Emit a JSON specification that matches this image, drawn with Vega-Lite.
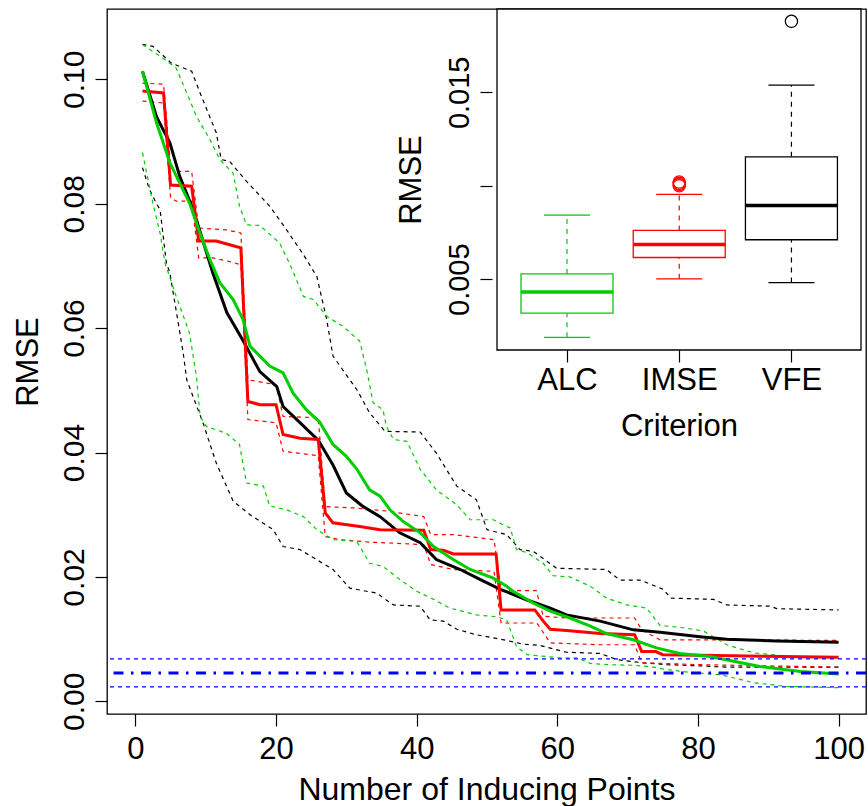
{
  "$schema": "https://vega.github.io/schema/vega-lite/v6.json",
  "width": 759,
  "height": 705,
  "autosize": {"type": "none"},
  "padding": {"left": 107, "top": 9, "right": 2, "bottom": 92},
  "background": "white",
  "config": {
    "view": {"stroke": "black", "strokeWidth": 1.3},
    "font": "Liberation Sans",
    "axis": {
      "labelFont": "Liberation Sans", "titleFont": "Liberation Sans",
      "labelFontSize": 30, "titleFontSize": 31, "titleFontWeight": "normal",
      "labelColor": "black", "titleColor": "black", "tickColor": "black",
      "tickSize": 12, "tickWidth": 1.2, "domain": false, "grid": false, "labelOverlap": false
    }
  },
  "datasets": {
    "lines": [
      {"g":"VFE","k":"m","x":1,"y":0.1013},{"g":"VFE","k":"m","x":3,"y":0.0940},{"g":"VFE","k":"m","x":4.9,"y":0.0898},{"g":"VFE","k":"m","x":6.3,"y":0.0844},{"g":"VFE","k":"m","x":8.2,"y":0.0791},{"g":"VFE","k":"m","x":9.2,"y":0.0755},{"g":"VFE","k":"m","x":11,"y":0.0689},{"g":"VFE","k":"m","x":13,"y":0.0625},{"g":"VFE","k":"m","x":15.3,"y":0.0580},{"g":"VFE","k":"m","x":17.7,"y":0.0530},{"g":"VFE","k":"m","x":20.1,"y":0.0506},{"g":"VFE","k":"m","x":21,"y":0.0474},{"g":"VFE","k":"m","x":23.4,"y":0.0448},{"g":"VFE","k":"m","x":26,"y":0.0420},{"g":"VFE","k":"m","x":28.1,"y":0.0380},{"g":"VFE","k":"m","x":30,"y":0.0335},{"g":"VFE","k":"m","x":32.4,"y":0.0313},{"g":"VFE","k":"m","x":34.8,"y":0.0297},{"g":"VFE","k":"m","x":37.6,"y":0.0271},{"g":"VFE","k":"m","x":40.5,"y":0.0255},{"g":"VFE","k":"m","x":42.8,"y":0.0228},{"g":"VFE","k":"m","x":46.2,"y":0.0212},{"g":"VFE","k":"m","x":49,"y":0.0196},{"g":"VFE","k":"m","x":51.9,"y":0.0180},{"g":"VFE","k":"m","x":55.7,"y":0.0163},{"g":"VFE","k":"m","x":59,"y":0.0150},{"g":"VFE","k":"m","x":61.3,"y":0.0139},{"g":"VFE","k":"m","x":66.1,"y":0.0129},{"g":"VFE","k":"m","x":70.8,"y":0.0115},{"g":"VFE","k":"m","x":74.6,"y":0.0111},{"g":"VFE","k":"m","x":80.3,"y":0.0104},{"g":"VFE","k":"m","x":84.1,"y":0.0100},{"g":"VFE","k":"m","x":91.2,"y":0.0097},{"g":"VFE","k":"m","x":100,"y":0.0095},

      {"g":"VFE","k":"h","x":1,"y":0.1056},{"g":"VFE","k":"h","x":2.5,"y":0.1053},{"g":"VFE","k":"h","x":5.1,"y":0.1026},{"g":"VFE","k":"h","x":8,"y":0.1013},{"g":"VFE","k":"h","x":9.2,"y":0.0978},{"g":"VFE","k":"h","x":11.5,"y":0.0914},{"g":"VFE","k":"h","x":12.2,"y":0.0871},{"g":"VFE","k":"h","x":13.4,"y":0.0868},{"g":"VFE","k":"h","x":15.8,"y":0.0836},{"g":"VFE","k":"h","x":19.1,"y":0.0796},{"g":"VFE","k":"h","x":21.5,"y":0.0758},{"g":"VFE","k":"h","x":23.9,"y":0.0718},{"g":"VFE","k":"h","x":25.8,"y":0.0683},{"g":"VFE","k":"h","x":27.2,"y":0.0614},{"g":"VFE","k":"h","x":28.1,"y":0.0555},{"g":"VFE","k":"h","x":31.5,"y":0.0501},{"g":"VFE","k":"h","x":33.3,"y":0.0464},{"g":"VFE","k":"h","x":35.5,"y":0.0434},{"g":"VFE","k":"h","x":40.5,"y":0.0433},{"g":"VFE","k":"h","x":42.8,"y":0.0399},{"g":"VFE","k":"h","x":45.7,"y":0.0346},{"g":"VFE","k":"h","x":48.5,"y":0.0324},{"g":"VFE","k":"h","x":50,"y":0.0276},{"g":"VFE","k":"h","x":52.8,"y":0.0268},{"g":"VFE","k":"h","x":54.7,"y":0.0244},{"g":"VFE","k":"h","x":56.6,"y":0.0241},{"g":"VFE","k":"h","x":59.9,"y":0.0214},{"g":"VFE","k":"h","x":67,"y":0.0212},{"g":"VFE","k":"h","x":68.9,"y":0.0195},{"g":"VFE","k":"h","x":71.8,"y":0.0195},{"g":"VFE","k":"h","x":75.1,"y":0.0180},{"g":"VFE","k":"h","x":76.1,"y":0.0166},{"g":"VFE","k":"h","x":82.2,"y":0.0164},{"g":"VFE","k":"h","x":84.1,"y":0.0155},{"g":"VFE","k":"h","x":90.3,"y":0.0153},{"g":"VFE","k":"h","x":91.2,"y":0.0149},{"g":"VFE","k":"h","x":100,"y":0.0147},

      {"g":"VFE","k":"l","x":1,"y":0.0858},{"g":"VFE","k":"l","x":2,"y":0.0823},{"g":"VFE","k":"l","x":3,"y":0.0800},{"g":"VFE","k":"l","x":3.5,"y":0.0791},{"g":"VFE","k":"l","x":4.4,"y":0.0705},{"g":"VFE","k":"l","x":4.9,"y":0.0689},{"g":"VFE","k":"l","x":6.8,"y":0.0560},{"g":"VFE","k":"l","x":7.3,"y":0.0517},{"g":"VFE","k":"l","x":9.6,"y":0.0448},{"g":"VFE","k":"l","x":11.5,"y":0.0383},{"g":"VFE","k":"l","x":13.9,"y":0.0322},{"g":"VFE","k":"l","x":16.3,"y":0.0300},{"g":"VFE","k":"l","x":19.6,"y":0.0276},{"g":"VFE","k":"l","x":21,"y":0.0249},{"g":"VFE","k":"l","x":23.4,"y":0.0244},{"g":"VFE","k":"l","x":28.1,"y":0.0212},{"g":"VFE","k":"l","x":30.5,"y":0.0182},{"g":"VFE","k":"l","x":34.3,"y":0.0174},{"g":"VFE","k":"l","x":36.7,"y":0.0155},{"g":"VFE","k":"l","x":40.5,"y":0.0153},{"g":"VFE","k":"l","x":41.9,"y":0.0131},{"g":"VFE","k":"l","x":43.8,"y":0.0129},{"g":"VFE","k":"l","x":45.7,"y":0.0116},{"g":"VFE","k":"l","x":48.5,"y":0.0107},{"g":"VFE","k":"l","x":51.9,"y":0.0100},{"g":"VFE","k":"l","x":55.2,"y":0.0092},{"g":"VFE","k":"l","x":57.5,"y":0.0090},{"g":"VFE","k":"l","x":61.3,"y":0.0079},{"g":"VFE","k":"l","x":66.1,"y":0.0077},{"g":"VFE","k":"l","x":68.5,"y":0.0067},{"g":"VFE","k":"l","x":72.2,"y":0.0062},{"g":"VFE","k":"l","x":75.6,"y":0.0059},{"g":"VFE","k":"l","x":80.3,"y":0.0057},{"g":"VFE","k":"l","x":84.1,"y":0.0055},{"g":"VFE","k":"l","x":100,"y":0.0055},

      {"g":"IMSE","k":"m","x":1,"y":0.0981},{"g":"IMSE","k":"m","x":4,"y":0.0978},{"g":"IMSE","k":"m","x":5,"y":0.0830},{"g":"IMSE","k":"m","x":8,"y":0.0828},{"g":"IMSE","k":"m","x":9,"y":0.0740},{"g":"IMSE","k":"m","x":11.5,"y":0.0740},{"g":"IMSE","k":"m","x":13.4,"y":0.0734},{"g":"IMSE","k":"m","x":15,"y":0.0729},{"g":"IMSE","k":"m","x":16,"y":0.0482},{"g":"IMSE","k":"m","x":17.7,"y":0.0477},{"g":"IMSE","k":"m","x":20,"y":0.0477},{"g":"IMSE","k":"m","x":21,"y":0.0429},{"g":"IMSE","k":"m","x":23.4,"y":0.0423},{"g":"IMSE","k":"m","x":26,"y":0.0421},{"g":"IMSE","k":"m","x":27,"y":0.0303},{"g":"IMSE","k":"m","x":28.1,"y":0.0287},{"g":"IMSE","k":"m","x":31.9,"y":0.0281},{"g":"IMSE","k":"m","x":34.8,"y":0.0276},{"g":"IMSE","k":"m","x":41,"y":0.0275},{"g":"IMSE","k":"m","x":42,"y":0.0244},{"g":"IMSE","k":"m","x":43.8,"y":0.0243},{"g":"IMSE","k":"m","x":45.2,"y":0.0237},{"g":"IMSE","k":"m","x":51.3,"y":0.0237},{"g":"IMSE","k":"m","x":52,"y":0.0147},{"g":"IMSE","k":"m","x":56.8,"y":0.0147},{"g":"IMSE","k":"m","x":58,"y":0.0129},{"g":"IMSE","k":"m","x":59,"y":0.0116},{"g":"IMSE","k":"m","x":61.3,"y":0.0114},{"g":"IMSE","k":"m","x":66.1,"y":0.0109},{"g":"IMSE","k":"m","x":71,"y":0.0107},{"g":"IMSE","k":"m","x":72,"y":0.0080},{"g":"IMSE","k":"m","x":74,"y":0.0080},{"g":"IMSE","k":"m","x":75,"y":0.0075},{"g":"IMSE","k":"m","x":80.3,"y":0.0074},{"g":"IMSE","k":"m","x":100,"y":0.0071},

      {"g":"IMSE","k":"h","x":1,"y":0.0994},{"g":"IMSE","k":"h","x":4,"y":0.0992},{"g":"IMSE","k":"h","x":5,"y":0.0860},{"g":"IMSE","k":"h","x":5.8,"y":0.0852},{"g":"IMSE","k":"h","x":8,"y":0.0852},{"g":"IMSE","k":"h","x":9,"y":0.0761},{"g":"IMSE","k":"h","x":12.9,"y":0.0758},{"g":"IMSE","k":"h","x":15,"y":0.0753},{"g":"IMSE","k":"h","x":16,"y":0.0517},{"g":"IMSE","k":"h","x":20,"y":0.0509},{"g":"IMSE","k":"h","x":21,"y":0.0458},{"g":"IMSE","k":"h","x":26,"y":0.0456},{"g":"IMSE","k":"h","x":27,"y":0.0313},{"g":"IMSE","k":"h","x":31,"y":0.0311},{"g":"IMSE","k":"h","x":35.7,"y":0.0306},{"g":"IMSE","k":"h","x":41,"y":0.0297},{"g":"IMSE","k":"h","x":42,"y":0.0268},{"g":"IMSE","k":"h","x":45.2,"y":0.0268},{"g":"IMSE","k":"h","x":51,"y":0.0260},{"g":"IMSE","k":"h","x":52,"y":0.0178},{"g":"IMSE","k":"h","x":57,"y":0.0178},{"g":"IMSE","k":"h","x":58,"y":0.0137},{"g":"IMSE","k":"h","x":61.3,"y":0.0134},{"g":"IMSE","k":"h","x":71,"y":0.0134},{"g":"IMSE","k":"h","x":72,"y":0.0115},{"g":"IMSE","k":"h","x":74.6,"y":0.0099},{"g":"IMSE","k":"h","x":80.3,"y":0.0099},{"g":"IMSE","k":"h","x":100,"y":0.0098},

      {"g":"IMSE","k":"l","x":1,"y":0.0965},{"g":"IMSE","k":"l","x":4,"y":0.0962},{"g":"IMSE","k":"l","x":5,"y":0.0810},{"g":"IMSE","k":"l","x":5.8,"y":0.0804},{"g":"IMSE","k":"l","x":8,"y":0.0804},{"g":"IMSE","k":"l","x":9,"y":0.0713},{"g":"IMSE","k":"l","x":11,"y":0.0713},{"g":"IMSE","k":"l","x":13.4,"y":0.0707},{"g":"IMSE","k":"l","x":15,"y":0.0702},{"g":"IMSE","k":"l","x":16,"y":0.0453},{"g":"IMSE","k":"l","x":20,"y":0.0448},{"g":"IMSE","k":"l","x":21,"y":0.0402},{"g":"IMSE","k":"l","x":26,"y":0.0395},{"g":"IMSE","k":"l","x":27,"y":0.0265},{"g":"IMSE","k":"l","x":29.1,"y":0.0260},{"g":"IMSE","k":"l","x":33.3,"y":0.0256},{"g":"IMSE","k":"l","x":41,"y":0.0252},{"g":"IMSE","k":"l","x":42,"y":0.0220},{"g":"IMSE","k":"l","x":45.2,"y":0.0212},{"g":"IMSE","k":"l","x":51,"y":0.0209},{"g":"IMSE","k":"l","x":52,"y":0.0126},{"g":"IMSE","k":"l","x":57.1,"y":0.0126},{"g":"IMSE","k":"l","x":59,"y":0.0094},{"g":"IMSE","k":"l","x":66.1,"y":0.0091},{"g":"IMSE","k":"l","x":71,"y":0.0091},{"g":"IMSE","k":"l","x":72,"y":0.0062},{"g":"IMSE","k":"l","x":80.3,"y":0.0059},{"g":"IMSE","k":"l","x":100,"y":0.0055},

      {"g":"ALC","k":"m","x":1,"y":0.1013},{"g":"ALC","k":"m","x":3,"y":0.0930},{"g":"ALC","k":"m","x":4.9,"y":0.0866},{"g":"ALC","k":"m","x":6.3,"y":0.0833},{"g":"ALC","k":"m","x":7.7,"y":0.0801},{"g":"ALC","k":"m","x":9.2,"y":0.0752},{"g":"ALC","k":"m","x":10.6,"y":0.0710},{"g":"ALC","k":"m","x":12,"y":0.0673},{"g":"ALC","k":"m","x":13.9,"y":0.0646},{"g":"ALC","k":"m","x":15.3,"y":0.0614},{"g":"ALC","k":"m","x":16.3,"y":0.0571},{"g":"ALC","k":"m","x":17.7,"y":0.0555},{"g":"ALC","k":"m","x":19.1,"y":0.0539},{"g":"ALC","k":"m","x":21,"y":0.0528},{"g":"ALC","k":"m","x":22.4,"y":0.0496},{"g":"ALC","k":"m","x":24.3,"y":0.0469},{"g":"ALC","k":"m","x":26.2,"y":0.0449},{"g":"ALC","k":"m","x":28.1,"y":0.0413},{"g":"ALC","k":"m","x":30,"y":0.0394},{"g":"ALC","k":"m","x":31.5,"y":0.0373},{"g":"ALC","k":"m","x":33.3,"y":0.0340},{"g":"ALC","k":"m","x":34.8,"y":0.0330},{"g":"ALC","k":"m","x":36.2,"y":0.0308},{"g":"ALC","k":"m","x":38.1,"y":0.0289},{"g":"ALC","k":"m","x":40.5,"y":0.0271},{"g":"ALC","k":"m","x":42.4,"y":0.0249},{"g":"ALC","k":"m","x":45.2,"y":0.0228},{"g":"ALC","k":"m","x":47.6,"y":0.0212},{"g":"ALC","k":"m","x":50.9,"y":0.0198},{"g":"ALC","k":"m","x":52.8,"y":0.0185},{"g":"ALC","k":"m","x":53.7,"y":0.0177},{"g":"ALC","k":"m","x":56.6,"y":0.0158},{"g":"ALC","k":"m","x":59,"y":0.0145},{"g":"ALC","k":"m","x":61.8,"y":0.0134},{"g":"ALC","k":"m","x":64.7,"y":0.0121},{"g":"ALC","k":"m","x":67,"y":0.0109},{"g":"ALC","k":"m","x":70.8,"y":0.0099},{"g":"ALC","k":"m","x":74.1,"y":0.0086},{"g":"ALC","k":"m","x":77.4,"y":0.0077},{"g":"ALC","k":"m","x":81.7,"y":0.0072},{"g":"ALC","k":"m","x":88.8,"y":0.0056},{"g":"ALC","k":"m","x":94.6,"y":0.0048},{"g":"ALC","k":"m","x":100,"y":0.0044},

      {"g":"ALC","k":"h","x":1,"y":0.1056},{"g":"ALC","k":"h","x":3.9,"y":0.1034},{"g":"ALC","k":"h","x":5.8,"y":0.1018},{"g":"ALC","k":"h","x":7.3,"y":0.0978},{"g":"ALC","k":"h","x":8.7,"y":0.0940},{"g":"ALC","k":"h","x":10.6,"y":0.0903},{"g":"ALC","k":"h","x":12,"y":0.0871},{"g":"ALC","k":"h","x":13.9,"y":0.0849},{"g":"ALC","k":"h","x":14.8,"y":0.0796},{"g":"ALC","k":"h","x":15.8,"y":0.0766},{"g":"ALC","k":"h","x":17.7,"y":0.0765},{"g":"ALC","k":"h","x":20.5,"y":0.0737},{"g":"ALC","k":"h","x":22,"y":0.0702},{"g":"ALC","k":"h","x":23.9,"y":0.0651},{"g":"ALC","k":"h","x":25.3,"y":0.0646},{"g":"ALC","k":"h","x":27.2,"y":0.0619},{"g":"ALC","k":"h","x":29.5,"y":0.0603},{"g":"ALC","k":"h","x":31.9,"y":0.0579},{"g":"ALC","k":"h","x":32.9,"y":0.0533},{"g":"ALC","k":"h","x":33.8,"y":0.0480},{"g":"ALC","k":"h","x":35.2,"y":0.0469},{"g":"ALC","k":"h","x":35.7,"y":0.0442},{"g":"ALC","k":"h","x":36.7,"y":0.0421},{"g":"ALC","k":"h","x":38.6,"y":0.0418},{"g":"ALC","k":"h","x":40.5,"y":0.0373},{"g":"ALC","k":"h","x":42.8,"y":0.0340},{"g":"ALC","k":"h","x":45.7,"y":0.0316},{"g":"ALC","k":"h","x":47.6,"y":0.0292},{"g":"ALC","k":"h","x":50.9,"y":0.0292},{"g":"ALC","k":"h","x":52.8,"y":0.0281},{"g":"ALC","k":"h","x":53.3,"y":0.0279},{"g":"ALC","k":"h","x":54.2,"y":0.0244},{"g":"ALC","k":"h","x":55.7,"y":0.0239},{"g":"ALC","k":"h","x":58,"y":0.0222},{"g":"ALC","k":"h","x":59.4,"y":0.0202},{"g":"ALC","k":"h","x":61.8,"y":0.0200},{"g":"ALC","k":"h","x":64.7,"y":0.0185},{"g":"ALC","k":"h","x":67,"y":0.0166},{"g":"ALC","k":"h","x":69.9,"y":0.0155},{"g":"ALC","k":"h","x":72.7,"y":0.0150},{"g":"ALC","k":"h","x":74.6,"y":0.0122},{"g":"ALC","k":"h","x":77.5,"y":0.0119},{"g":"ALC","k":"h","x":80.8,"y":0.0113},{"g":"ALC","k":"h","x":84.1,"y":0.0091},{"g":"ALC","k":"h","x":87.9,"y":0.0078},{"g":"ALC","k":"h","x":92.6,"y":0.0073},{"g":"ALC","k":"h","x":100,"y":0.0070},

      {"g":"ALC","k":"l","x":1,"y":0.0882},{"g":"ALC","k":"l","x":1.3,"y":0.0866},{"g":"ALC","k":"l","x":2.5,"y":0.0800},{"g":"ALC","k":"l","x":3.5,"y":0.0753},{"g":"ALC","k":"l","x":4.2,"y":0.0705},{"g":"ALC","k":"l","x":5.8,"y":0.0651},{"g":"ALC","k":"l","x":7.7,"y":0.0592},{"g":"ALC","k":"l","x":8.7,"y":0.0520},{"g":"ALC","k":"l","x":9.2,"y":0.0458},{"g":"ALC","k":"l","x":10.1,"y":0.0442},{"g":"ALC","k":"l","x":12.9,"y":0.0431},{"g":"ALC","k":"l","x":14.8,"y":0.0413},{"g":"ALC","k":"l","x":15.8,"y":0.0351},{"g":"ALC","k":"l","x":18.2,"y":0.0346},{"g":"ALC","k":"l","x":19.1,"y":0.0314},{"g":"ALC","k":"l","x":21.5,"y":0.0308},{"g":"ALC","k":"l","x":23.9,"y":0.0297},{"g":"ALC","k":"l","x":25.8,"y":0.0276},{"g":"ALC","k":"l","x":28.1,"y":0.0260},{"g":"ALC","k":"l","x":31.5,"y":0.0257},{"g":"ALC","k":"l","x":33.3,"y":0.0222},{"g":"ALC","k":"l","x":35.2,"y":0.0217},{"g":"ALC","k":"l","x":37.6,"y":0.0196},{"g":"ALC","k":"l","x":40,"y":0.0177},{"g":"ALC","k":"l","x":42.4,"y":0.0164},{"g":"ALC","k":"l","x":44.7,"y":0.0150},{"g":"ALC","k":"l","x":48.5,"y":0.0139},{"g":"ALC","k":"l","x":51.4,"y":0.0136},{"g":"ALC","k":"l","x":52.8,"y":0.0131},{"g":"ALC","k":"l","x":54.2,"y":0.0088},{"g":"ALC","k":"l","x":55.7,"y":0.0075},{"g":"ALC","k":"l","x":60.4,"y":0.0070},{"g":"ALC","k":"l","x":62.8,"y":0.0070},{"g":"ALC","k":"l","x":64.7,"y":0.0061},{"g":"ALC","k":"l","x":67.5,"y":0.0059},{"g":"ALC","k":"l","x":70.8,"y":0.0058},{"g":"ALC","k":"l","x":73.2,"y":0.0056},{"g":"ALC","k":"l","x":75.6,"y":0.0051},{"g":"ALC","k":"l","x":79.4,"y":0.0046},{"g":"ALC","k":"l","x":83.2,"y":0.0043},{"g":"ALC","k":"l","x":87.9,"y":0.0030},{"g":"ALC","k":"l","x":92.6,"y":0.0024},{"g":"ALC","k":"l","x":100,"y":0.0022}
    ],
    "hl": [
      {"t": "band", "y": 0.00682},
      {"t": "band", "y": 0.00232},
      {"t": "mid", "y": 0.00457}
    ],
    "box": [
      {"c": "ALC", "pos": 1, "lo": 0.00189, "q1": 0.00318, "med": 0.00432, "q3": 0.00528, "hi": 0.00843},
      {"c": "IMSE", "pos": 2, "lo": 0.00502, "q1": 0.00616, "med": 0.00686, "q3": 0.00761, "hi": 0.00954},
      {"c": "VFE", "pos": 3, "lo": 0.00482, "q1": 0.00711, "med": 0.00895, "q3": 0.01155, "hi": 0.01539}
    ],
    "out": [
      {"c": "IMSE", "pos": 2, "v": 0.0100},
      {"c": "IMSE", "pos": 2, "v": 0.01007},
      {"c": "IMSE", "pos": 2, "v": 0.01013},
      {"c": "IMSE", "pos": 2, "v": 0.0102},
      {"c": "VFE", "pos": 3, "v": 0.0188}
    ]
  },
  "layer": [
    {
      "layer": [
        {
          "data": {"name": "lines"},
          "transform": [{"filter": "datum.k != 'm'"}],
          "mark": {"type": "line", "strokeWidth": 1.2, "strokeDash": [4, 4], "interpolate": "linear"},
          "encoding": {
            "x": {"field": "x", "type": "quantitative",
                  "scale": {"domain": [-4.04, 103.9], "nice": false, "zero": false},
                  "axis": {"values": [0, 20, 40, 60, 80, 100], "title": "Number of Inducing Points",
                           "labelFontSize": 31, "titleFontSize": 32, "labelPadding": 8, "titlePadding": 10}},
            "y": {"field": "y", "type": "quantitative",
                  "scale": {"domain": [-0.00203, 0.1113], "nice": false, "zero": false},
                  "axis": {"values": [0, 0.02, 0.04, 0.06, 0.08, 0.1], "format": ".2f", "labelAngle": -90,
                           "title": "RMSE", "labelFontSize": 30, "titleFontSize": 31, "labelPadding": 6, "titlePadding": 15}},
            "color": {"field": "g", "type": "nominal",
                      "scale": {"domain": ["VFE", "IMSE", "ALC"], "range": ["#000000", "#FF0000", "#00CD00"]}, "legend": null},
            "detail": {"field": "k", "type": "nominal"}
          }
        },
        {
          "data": {"name": "lines"},
          "transform": [{"filter": "datum.k == 'm'"}],
          "mark": {"type": "line", "strokeWidth": 3, "interpolate": "linear"},
          "encoding": {
            "x": {"field": "x", "type": "quantitative"},
            "y": {"field": "y", "type": "quantitative"},
            "color": {"field": "g", "type": "nominal", "legend": null}
          }
        },
        {
          "data": {"name": "hl"},
          "transform": [{"filter": "datum.t == 'band'"}],
          "mark": {"type": "rule", "color": "#0000FF", "strokeWidth": 1.2, "strokeDash": [4, 4]},
          "encoding": {"y": {"field": "y", "type": "quantitative"}}
        },
        {
          "data": {"name": "hl"},
          "transform": [{"filter": "datum.t == 'mid'"}],
          "mark": {"type": "rule", "color": "#0000FF", "strokeWidth": 3, "strokeDash": [10, 7.5, 2.5, 7.5]},
          "encoding": {"y": {"field": "y", "type": "quantitative"}}
        }
      ]
    },
    {
      "layer": [
        {
          "data": {"values": [{}]},
          "mark": {"type": "rect", "fill": "white", "stroke": "black", "strokeWidth": 1.3},
          "encoding": {
            "x": {"datum": 0.376, "type": "quantitative",
                  "scale": {"domain": [0.376, 3.62], "range": [385, 759], "nice": false, "zero": false},
                  "axis": {"orient": "bottom", "offset": -364, "values": [1, 2, 3], "zindex": 1,
                           "labelExpr": "datum.value == 1 ? 'ALC' : datum.value == 2 ? 'IMSE' : 'VFE'",
                           "title": "Criterion", "labelFontSize": 31, "titleFontSize": 31, "labelPadding": 3, "titlePadding": 16}},
            "x2": {"datum": 3.62},
            "y": {"datum": 0.00121, "type": "quantitative",
                  "scale": {"domain": [0.00121, 0.01946], "range": [341, 0], "nice": false, "zero": false},
                  "axis": {"orient": "left", "offset": -385, "values": [0.005, 0.01, 0.015], "zindex": 1,
                           "labelExpr": "datum.value == 0.01 ? '' : format(datum.value, '.3f')", "labelAngle": -90,
                           "title": "RMSE", "labelFontSize": 29, "titleFontSize": 31, "labelPadding": 6, "titlePadding": 18}},
            "y2": {"datum": 0.01946}
          }
        },
        {
          "data": {"name": "box"},
          "mark": {"type": "rule", "strokeWidth": 1.2, "strokeDash": [5, 5]},
          "encoding": {
            "x": {"field": "pos", "type": "quantitative"},
            "y": {"field": "q3", "type": "quantitative"},
            "y2": {"field": "hi"},
            "color": {"field": "c", "type": "nominal", "legend": null}
          }
        },
        {
          "data": {"name": "box"},
          "mark": {"type": "rule", "strokeWidth": 1.2, "strokeDash": [5, 5]},
          "encoding": {
            "x": {"field": "pos", "type": "quantitative"},
            "y": {"field": "lo", "type": "quantitative"},
            "y2": {"field": "q1"},
            "color": {"field": "c", "type": "nominal", "legend": null}
          }
        },
        {
          "data": {"name": "box"},
          "mark": {"type": "bar", "width": 92, "fill": "white", "strokeWidth": 1.3},
          "encoding": {
            "x": {"field": "pos", "type": "quantitative"},
            "y": {"field": "q1", "type": "quantitative"},
            "y2": {"field": "q3"},
            "stroke": {"field": "c", "type": "nominal",
                       "scale": {"domain": ["VFE", "IMSE", "ALC"], "range": ["#000000", "#FF0000", "#00CD00"]}, "legend": null}
          }
        },
        {
          "data": {"name": "box"},
          "mark": {"type": "tick", "orient": "horizontal", "size": 92, "thickness": 3.5, "opacity": 1},
          "encoding": {
            "x": {"field": "pos", "type": "quantitative"},
            "y": {"field": "med", "type": "quantitative"},
            "color": {"field": "c", "type": "nominal", "legend": null}
          }
        },
        {
          "data": {"name": "box"},
          "mark": {"type": "tick", "orient": "horizontal", "size": 46, "thickness": 1.2, "opacity": 1},
          "encoding": {
            "x": {"field": "pos", "type": "quantitative"},
            "y": {"field": "hi", "type": "quantitative"},
            "color": {"field": "c", "type": "nominal", "legend": null}
          }
        },
        {
          "data": {"name": "box"},
          "mark": {"type": "tick", "orient": "horizontal", "size": 46, "thickness": 1.2, "opacity": 1},
          "encoding": {
            "x": {"field": "pos", "type": "quantitative"},
            "y": {"field": "lo", "type": "quantitative"},
            "color": {"field": "c", "type": "nominal", "legend": null}
          }
        },
        {
          "data": {"name": "out"},
          "mark": {"type": "point", "shape": "circle", "filled": false, "size": 150, "strokeWidth": 1.2, "opacity": 1},
          "encoding": {
            "x": {"field": "pos", "type": "quantitative"},
            "y": {"field": "v", "type": "quantitative"},
            "color": {"field": "c", "type": "nominal", "legend": null}
          }
        }
      ]
    }
  ],
  "resolve": {"scale": {"x": "independent", "y": "independent"}, "axis": {"x": "independent", "y": "independent"}}
}
